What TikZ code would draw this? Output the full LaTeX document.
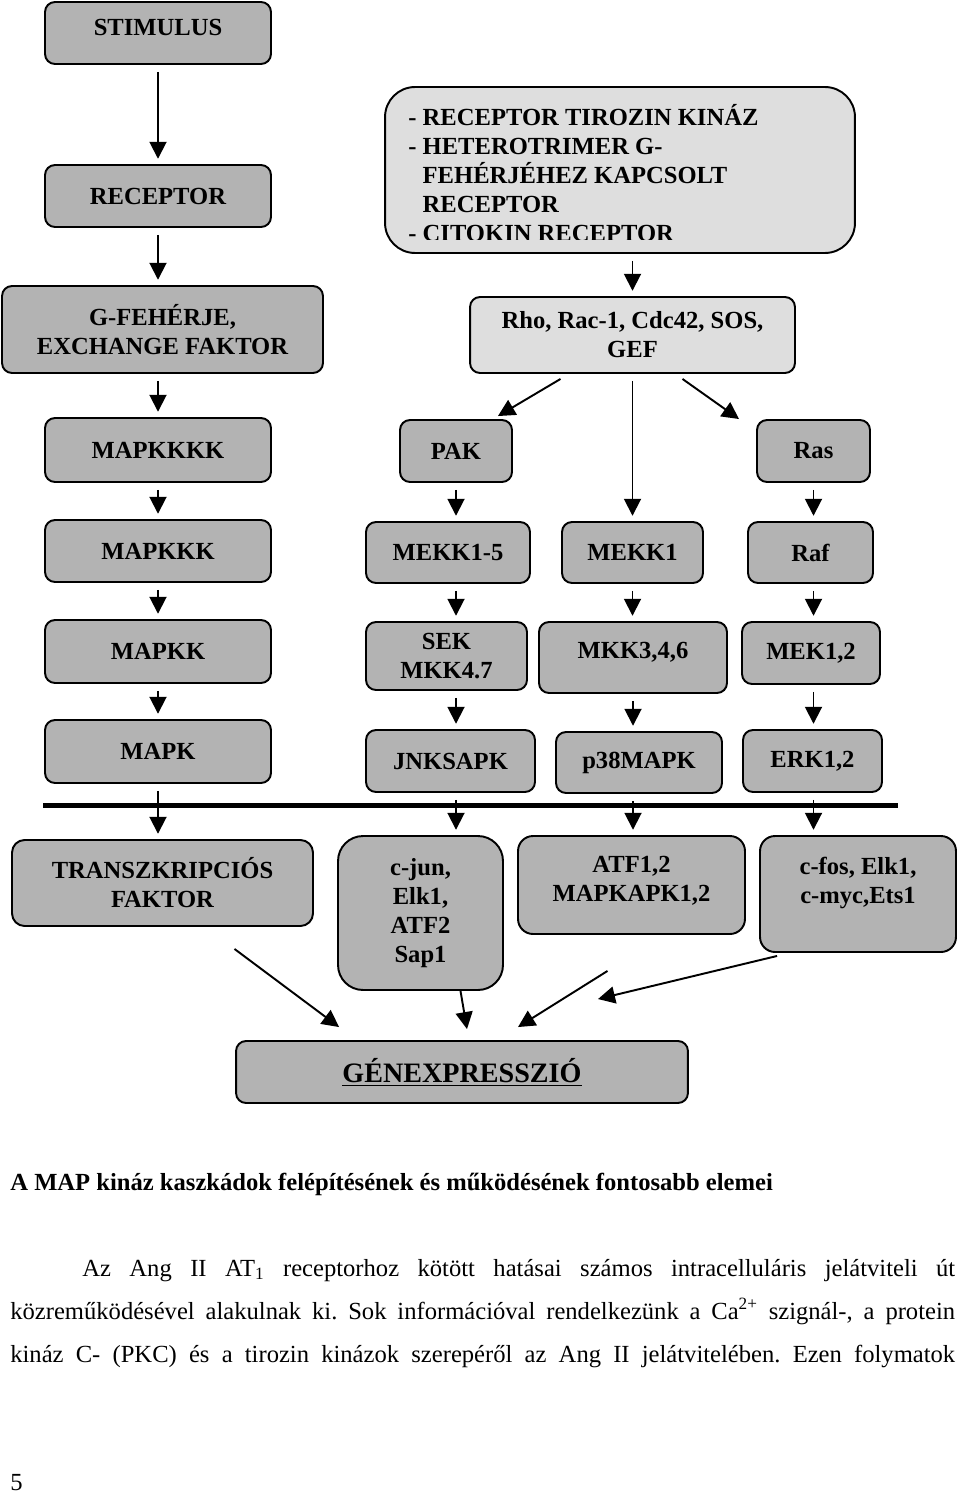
\documentclass[tikz,border=0pt]{standalone}
\usepackage{fontspec}
\setmainfont{Liberation Serif}
\usepackage{tikz}
\usetikzlibrary{calc,arrows.meta}
\definecolor{boxgray}{HTML}{B3B3B3}
\definecolor{palegray}{HTML}{DEDEDE}
\frenchspacing

\begin{document}
\begin{tikzpicture}[
  x=0.02cm, y=-0.02cm,
  box/.style={draw=black, line width=1.1pt, fill=boxgray, rounded corners=0.2cm,
              align=center, inner sep=2pt, font=\bfseries\fontsize{14}{16.5}\selectfont},
  lightbox/.style={box, fill=palegray},
  arrow/.style={-{Triangle[length=0.34cm, width=0.34cm]}, line width=1.1pt,
                shorten <=4pt, shorten >=3pt},
  diag/.style={arrow, shorten <=0pt, shorten >=0pt},
  bar/.style={line width=0.1cm},
  plain/.style={inner sep=0pt, font=\fontsize{14}{16.5}\selectfont}
]
\useasboundingbox (0,0) rectangle (960,1494);

% left column
\node[box, minimum width=4.52cm, minimum height=1.24cm, text depth=0.22cm] (stim) at (158,33) {STIMULUS};
\node[box, minimum width=4.52cm, minimum height=1.24cm] (rec) at (158,196) {RECEPTOR};
\node[box, minimum width=6.42cm, minimum height=1.74cm] (gprot) at (162.5,329.5) {G-FEHÉRJE,\\EXCHANGE FAKTOR};
\node[box, minimum width=4.52cm, minimum height=1.28cm] (mapkkkk) at (158,450) {MAPKKKK};
\node[box, minimum width=4.52cm, minimum height=1.24cm] (mapkkk) at (158,551) {MAPKKK};
\node[box, minimum width=4.52cm, minimum height=1.26cm] (mapkk) at (158,651.5) {MAPKK};
\node[box, minimum width=4.52cm, minimum height=1.26cm] (mapk) at (158,751.5) {MAPK};
\node[box, minimum width=6.02cm, minimum height=1.72cm, rounded corners=0.25cm] (tf) at (162.5,883) {TRANSZKRIPCIÓS\\FAKTOR};

% receptor types
\node[lightbox, minimum width=9.4cm, minimum height=3.32cm, rounded corners=0.6cm] (rtk) at (620,170) {};
\begin{scope}
  \clip (385,87) rectangle (855,239);
  \node[plain, font=\bfseries\fontsize{14}{16.5}\selectfont, align=left, anchor=north west] (rtktext) at (408,104)
    {- RECEPTOR TIROZIN KINÁZ\\- HETEROTRIMER G-\\\hphantom{- }FEHÉRJÉHEZ KAPCSOLT\\\hphantom{- }RECEPTOR\\- CITOKIN RECEPTOR};
\end{scope}
\node[lightbox, minimum width=6.5cm, minimum height=1.52cm] (rho) at (632.5,335) {Rho, Rac-1, Cdc42, SOS,\\GEF};

% cascades
\node[box, minimum width=2.24cm, minimum height=1.24cm] (pak) at (456,451) {PAK};
\node[box, minimum width=2.26cm, minimum height=1.24cm] (ras) at (813.5,451) {Ras};
\node[box, minimum width=3.28cm, minimum height=1.22cm] (mekk15) at (448,552.5) {MEKK1-5};
\node[box, minimum width=2.82cm, minimum height=1.22cm] (mekk1) at (632.5,552.5) {MEKK1};
\node[box, minimum width=2.5cm, minimum height=1.22cm] (raf) at (810.5,552.5) {Raf};
\node[box, minimum width=3.22cm, minimum height=1.36cm] (sek) at (446.5,656) {SEK\\MKK4.7};
\node[box, minimum width=3.76cm, minimum height=1.42cm, text depth=0.3cm] (mkk) at (633,657.5) {MKK3,4,6};
\node[box, minimum width=2.76cm, minimum height=1.24cm] (mek) at (811,653) {MEK1,2};
\node[box, minimum width=3.38cm, minimum height=1.24cm] (jnk) at (450.5,761) {JNKSAPK};
\node[box, minimum width=3.32cm, minimum height=1.22cm] (p38) at (639,762.5) {p38MAPK};
\node[box, minimum width=2.78cm, minimum height=1.24cm] (erk) at (812.5,761) {ERK1,2};

% transcription factors
\node[box, minimum width=3.3cm, minimum height=3.08cm, rounded corners=0.5cm] (cjun) at (420.5,913) {c-jun,\\Elk1,\\ATF2\\Sap1};
\node[box, minimum width=4.54cm, minimum height=1.96cm, rounded corners=0.3cm, text depth=0.24cm] (atf) at (631.5,885) {ATF1,2\\MAPKAPK1,2};
\node[box, minimum width=3.92cm, minimum height=2.32cm, rounded corners=0.3cm, text depth=0.56cm] (cfos) at (858,894) {c-fos, Elk1,\\c-myc,Ets1};
\node[box, minimum width=9.04cm, minimum height=1.24cm, font=\bfseries\fontsize{16}{19}\selectfont] (gen) at (462,1072) {\underline{GÉNEXPRESSZIÓ}};

\draw[bar] (43,805) -- (898,805);

\draw[arrow] (stim) -- (rec);
\draw[arrow] (rec.south) -- (rec.south |- gprot.north);
\draw[arrow] (gprot.south -| mapkkkk.north) -- (mapkkkk.north);
\draw[arrow] (mapkkkk) -- (mapkkk);
\draw[arrow] (mapkkk) -- (mapkk);
\draw[arrow] (mapkk) -- (mapk);
\draw[arrow] (mapk.south) -- (mapk.south |- tf.north);

\draw[arrow] (rho.north |- rtk.south) -- (rho.north);
\draw[arrow] (rho.south) -- (rho.south |- mekk1.north);
\draw[diag] ($(rho.south)+(-72,5)$) -- ($(pak.north east)+(-15,-3)$);
\draw[diag] ($(rho.south)+(50,5)$) -- ($(ras.north west)+(-17,0)$);

\draw[arrow] (pak.south) -- (pak.south |- mekk15.north);
\draw[arrow] (mekk15.south -| pak.south) -- (pak.south |- sek.north);
\draw[arrow] (sek.south -| pak.south) -- (pak.south |- jnk.north);
\draw[arrow] (jnk.south -| pak.south) -- (pak.south |- cjun.north);

\draw[arrow] (mekk1.south) -- (mekk1.south |- mkk.north);
\draw[arrow] (mkk.south) -- (mkk.south |- p38.north);
\draw[arrow] (p38.south -| mkk.south) -- (mkk.south |- atf.north);

\draw[arrow] (ras.south) -- (ras.south |- raf.north);
\draw[arrow] (raf.south -| ras.south) -- (ras.south |- mek.north);
\draw[arrow] (mek.south -| ras.south) -- (ras.south |- erk.north);
\draw[arrow] (erk.south -| ras.south) -- (ras.south |- cfos.north);

\draw[diag] ($(tf.south)+(72,22)$) -- ($(gen.north west)+(104,-13)$);
\draw[diag] ($(cjun.south)+(40,0)$) -- ($(gen.north)+(5,-11)$);
\draw[diag] ($(atf.south)+(-24,36)$) -- ($(gen.north)+(56,-13)$);
\draw[diag] ($(cfos.south west)+(18,3)$) -- ($(gen.north)+(136,-41)$);

% caption and text below
\node[plain, anchor=base west, font=\bfseries\fontsize{14}{16.5}\selectfont] (caption) at (10,1190)
  {A MAP kináz kaszkádok felépítésének és működésének fontosabb elemei};
\node[plain, anchor=base west] (line1) at (82,1276)
  {\makebox[17.46cm][s]{Az Ang II AT\textsubscript{1} receptorhoz kötött hatásai számos intracelluláris jelátviteli út}};
\node[plain, anchor=base west] (line2) at (10,1319)
  {\makebox[18.9cm][s]{közreműködésével alakulnak ki. Sok információval rendelkezünk a Ca\textsuperscript{2+} szignál-, a protein}};
\node[plain, anchor=base west] (line3) at (10,1362)
  {\makebox[18.9cm][s]{kináz C- (PKC) és a tirozin kinázok szerepéről az Ang II jelátvitelében. Ezen folymatok}};
\node[plain, anchor=base west] (pagenum) at (10,1490) {5};
\end{tikzpicture}
\end{document}
